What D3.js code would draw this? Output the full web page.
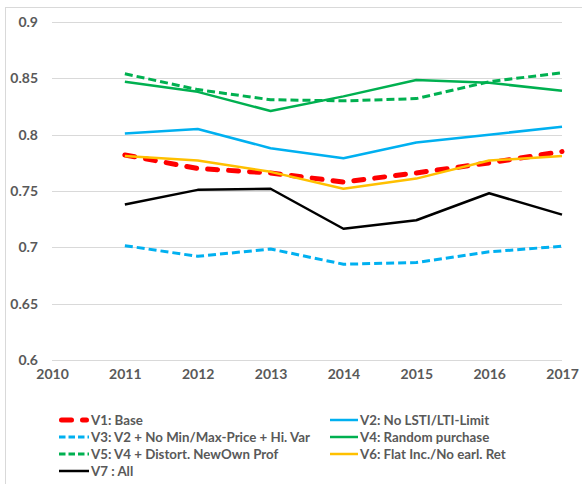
<!DOCTYPE html>
<html>
<head>
<meta charset="utf-8">
<script src="https://cdn.jsdelivr.net/npm/d3@7"></script>
<style>
body { margin: 0; background: #fff; }
svg { display: block; }
text { font-family: Lato, "Open Sans", sans-serif; font-weight: bold; fill: #595959; }
</style>
</head>
<body>
<svg id="chart" width="582" height="484"></svg>
<script>
const years = [2011, 2012, 2013, 2014, 2015, 2016, 2017];
const xTicks = [2010, 2011, 2012, 2013, 2014, 2015, 2016, 2017];
const yTicks = [0.6, 0.65, 0.7, 0.75, 0.8, 0.85, 0.9];
const yTickLabels = ["0.6", "0.65", "0.7", "0.75", "0.8", "0.85", "0.9"];

const v1 = [0.782, 0.770, 0.766, 0.758, 0.766, 0.775, 0.785];
const v2 = [0.801, 0.805, 0.788, 0.779, 0.793, 0.800, 0.807];
const v3 = [0.7015, 0.692, 0.6985, 0.685, 0.6865, 0.696, 0.701];
const v4 = [0.847, 0.838, 0.821, 0.834, 0.8485, 0.846, 0.839];
const v5 = [0.854, 0.840, 0.831, 0.830, 0.832, 0.847, 0.855];
const v6 = [0.781, 0.777, 0.767, 0.752, 0.761, 0.777, 0.781];
const v7 = [0.738, 0.751, 0.752, 0.7165, 0.724, 0.748, 0.729];

const seriesNames = ["V1: Base", "V2: No LSTI/LTI-Limit", "V3: V2 + No Min/Max-Price + Hi. Var",
  "V4: Random purchase", "V5: V4 + Distort. NewOwn Prof", "V6: Flat Inc./No earl. Ret", "V7 : All"];
const seriesValues = [v1, v2, v3, v4, v5, v6, v7];
const seriesColors = ["#FF0000", "#00B0F0", "#00B0F0", "#00B050", "#00B050", "#FFC000", "#000000"];

const styles = [
  {w: 5, dash: "10,11", cap: "round"},
  {w: 2.5, dash: null, cap: "butt"},
  {w: 3, dash: "8,4", cap: "butt"},
  {w: 2.5, dash: null, cap: "butt"},
  {w: 3, dash: "8,4", cap: "butt"},
  {w: 2.5, dash: null, cap: "butt"},
  {w: 2.5, dash: null, cap: "butt"}
];

const svg = d3.select("#chart");

// outer border
svg.append("rect").attr("x", 5.5).attr("y", 7.5).attr("width", 600).attr("height", 500)
  .attr("fill", "none").attr("stroke", "#d9d9d9").attr("stroke-width", 1);

const x = d3.scaleLinear().domain([2010, 2017]).range([52, 562]);
const y = d3.scaleLinear().domain([0.6, 0.9]).range([360, 22]);

// gridlines
svg.append("g").selectAll("line").data(yTicks).join("line")
  .attr("x1", x(2010)).attr("x2", x(2017))
  .attr("y1", d => Math.round(y(d)) + 0.5).attr("y2", d => Math.round(y(d)) + 0.5)
  .attr("stroke", "#d9d9d9").attr("stroke-width", 1);

// y axis labels
const yAxis = d3.axisLeft(y).tickValues(yTicks).tickSize(0).tickPadding(0)
  .tickFormat((d, i) => yTickLabels[i]);
const gy = svg.append("g").attr("transform", "translate(38,0)").call(yAxis);
gy.select(".domain").remove();
gy.selectAll("text").style("font-size", "14px").attr("fill", "#595959")
  .style("font-family", "Lato, sans-serif").style("font-weight", "bold");

// x axis labels
const xAxis = d3.axisBottom(x).tickValues(xTicks).tickSize(0).tickPadding(0).tickFormat(d3.format("d"));
const gx = svg.append("g").attr("transform", "translate(0,369)").call(xAxis);
gx.select(".domain").remove();
gx.selectAll("text").style("font-size", "14px").attr("fill", "#595959")
  .style("font-family", "Lato, sans-serif").style("font-weight", "bold");

// lines
const line = d3.line().x((d, i) => x(years[i])).y(d => y(d));
seriesValues.forEach((vals, k) => {
  const s = styles[k];
  svg.append("path").datum(vals)
    .attr("d", line)
    .attr("fill", "none")
    .attr("stroke", seriesColors[k])
    .attr("stroke-width", s.w)
    .attr("stroke-linecap", s.cap)
    .attr("stroke-linejoin", "round")
    .attr("stroke-dasharray", s.dash);
});

// legend
const legendRows = [420, 420, 437, 437, 454, 454, 471];
const legendCols = [59, 330, 59, 330, 59, 330, 59];
const legendLen = [30, 28, 30, 28, 30, 28, 30];
const lg = svg.append("g");
seriesNames.forEach((name, k) => {
  const s = styles[k];
  const lx = legendCols[k], ly = legendRows[k];
  const legDash = k === 0 ? "10,11" : (s.dash ? "6.5,3" : null);
  lg.append("line")
    .attr("x1", k === 0 ? lx + 2.5 : lx).attr("x2", k === 0 ? lx + legendLen[k] - 2.5 : lx + legendLen[k])
    .attr("y1", ly).attr("y2", ly)
    .attr("stroke", seriesColors[k]).attr("stroke-width", s.w)
    .attr("stroke-linecap", s.cap)
    .attr("stroke-dasharray", legDash);
  lg.append("text").attr("x", lx + legendLen[k] + 2).attr("y", ly)
    .attr("dy", "0.36em").style("font-size", "13.3px").text(name);
});
</script>
</body>
</html>
